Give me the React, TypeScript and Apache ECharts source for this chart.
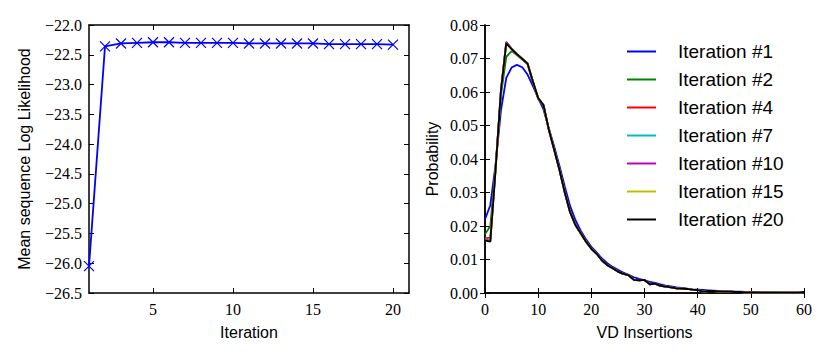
import React, { useEffect, useRef } from "react";
import * as echarts from "echarts";

// ---- Left panel data ----
const iterations = [1, 2, 3, 4, 5, 6, 7, 8, 9, 10, 11, 12, 13, 14, 15, 16, 17, 18, 19, 20];
const meanLogLik = [
  -26.05, -22.36, -22.31, -22.3, -22.29, -22.29, -22.3, -22.3, -22.3, -22.3,
  -22.31, -22.31, -22.31, -22.31, -22.31, -22.32, -22.32, -22.32, -22.32, -22.33,
];
const leftXTicks = [5, 10, 15, 20];

// ---- Right panel data ----
const insertions = Array.from({ length: 61 }, (_, i) => i);
const iter1 = [
  0.022, 0.0262, 0.0385, 0.0545, 0.0642, 0.0673, 0.0681, 0.0674, 0.0652, 0.0618,
  0.0582, 0.0548, 0.0492, 0.0438, 0.038, 0.0318, 0.026, 0.0218, 0.0186, 0.016,
  0.0138, 0.0121, 0.0103, 0.0089, 0.0078, 0.0069, 0.0061, 0.0054, 0.0047, 0.0042,
  0.0038, 0.0033, 0.003, 0.0026, 0.0022, 0.002, 0.0017, 0.0015, 0.0013, 0.0011,
  0.001, 0.0009, 0.0008, 0.0007, 0.0006, 0.0005, 0.0005, 0.0004, 0.0004, 0.0003,
  0.0003, 0.0002, 0.0002, 0.0002, 0.0002, 0.0002, 0.0001, 0.0001, 0.0001, 0.0001, 0.0001,
];
const iter2 = [
  0.0175, 0.02, 0.038, 0.059, 0.0705, 0.0722, 0.071, 0.0697, 0.0683, 0.0628,
  0.058, 0.0557, 0.0489, 0.043, 0.037, 0.0303, 0.0244, 0.0205, 0.018, 0.0155,
  0.0134, 0.0118, 0.0098, 0.0084, 0.0075, 0.0065, 0.0058, 0.0053, 0.004, 0.0039,
  0.0039, 0.0027, 0.0028, 0.0022, 0.0019, 0.0017, 0.0014, 0.0013, 0.0012, 0.001,
  0.0009, 0.0005, 0.0006, 0.0006, 0.0005, 0.0004, 0.0004, 0.0003, 0.0003, 0.0002,
  0.0002, 0.0002, 0.0001, 0.0001, 0.0001, 0.0001, 0.0001, 0.0001, 0.0001, 0.0001, 0.0003,
];
const iter4 = [
  0.0163, 0.0165, 0.0375, 0.0602, 0.0748, 0.073, 0.0714, 0.07, 0.0685, 0.0631,
  0.0581, 0.056, 0.0488, 0.0428, 0.0368, 0.0301, 0.0242, 0.0203, 0.0178, 0.0153,
  0.0132, 0.0117, 0.0097, 0.0083, 0.0074, 0.0064, 0.0057, 0.0053, 0.0039, 0.0038,
  0.0039, 0.0026, 0.0028, 0.0021, 0.0019, 0.0017, 0.0014, 0.0013, 0.0012, 0.001,
  0.0009, 0.0004, 0.0006, 0.0006, 0.0005, 0.0004, 0.0004, 0.0003, 0.0003, 0.0002,
  0.0002, 0.0002, 0.0001, 0.0001, 0.0001, 0.0001, 0.0001, 0.0001, 0.0001, 0.0001, 0.0003,
];
const iter7 = [
  0.016, 0.0157, 0.0372, 0.0604, 0.0749, 0.0729, 0.0713, 0.0699, 0.0685, 0.0632,
  0.0582, 0.0561, 0.0488, 0.0428, 0.0368, 0.03, 0.0241, 0.0203, 0.0178, 0.0153,
  0.0132, 0.0117, 0.0097, 0.0083, 0.0074, 0.0064, 0.0057, 0.0053, 0.0039, 0.0038,
  0.0039, 0.0026, 0.0028, 0.0021, 0.0019, 0.0017, 0.0014, 0.0013, 0.0012, 0.001,
  0.0009, 0.0004, 0.0006, 0.0006, 0.0005, 0.0004, 0.0004, 0.0003, 0.0003, 0.0002,
  0.0002, 0.0002, 0.0001, 0.0001, 0.0001, 0.0001, 0.0001, 0.0001, 0.0001, 0.0001, 0.0003,
];
const iter10 = [
  0.0158, 0.0155, 0.0371, 0.0605, 0.075, 0.0729, 0.0713, 0.0699, 0.0685, 0.0632,
  0.0582, 0.0561, 0.0488, 0.0428, 0.0368, 0.03, 0.0241, 0.0203, 0.0178, 0.0153,
  0.0132, 0.0117, 0.0097, 0.0083, 0.0074, 0.0064, 0.0057, 0.0053, 0.0039, 0.0038,
  0.0039, 0.0026, 0.0028, 0.0021, 0.0019, 0.0017, 0.0014, 0.0013, 0.0012, 0.001,
  0.0009, 0.0004, 0.0006, 0.0006, 0.0005, 0.0004, 0.0004, 0.0003, 0.0003, 0.0002,
  0.0002, 0.0002, 0.0001, 0.0001, 0.0001, 0.0001, 0.0001, 0.0001, 0.0001, 0.0001, 0.0003,
];
const iter15 = [
  0.0157, 0.0154, 0.037, 0.0605, 0.0746, 0.0728, 0.0713, 0.0699, 0.0685, 0.0632,
  0.0582, 0.0561, 0.0488, 0.0428, 0.0368, 0.03, 0.0241, 0.0203, 0.0178, 0.0153,
  0.0132, 0.0117, 0.0097, 0.0083, 0.0074, 0.0064, 0.0057, 0.0053, 0.0039, 0.0038,
  0.0039, 0.0026, 0.0028, 0.0021, 0.0019, 0.0017, 0.0014, 0.0013, 0.0012, 0.001,
  0.0009, 0.0004, 0.0006, 0.0006, 0.0005, 0.0004, 0.0004, 0.0003, 0.0003, 0.0002,
  0.0002, 0.0002, 0.0001, 0.0001, 0.0001, 0.0001, 0.0001, 0.0001, 0.0001, 0.0001, 0.0003,
];
const iter20 = [
  0.0157, 0.0153, 0.037, 0.0605, 0.0745, 0.0728, 0.0713, 0.0699, 0.0685, 0.0632,
  0.0582, 0.0561, 0.0488, 0.0428, 0.0368, 0.03, 0.0241, 0.0203, 0.0178, 0.0153,
  0.0132, 0.0117, 0.0097, 0.0083, 0.0074, 0.0064, 0.0057, 0.0053, 0.0039, 0.0038,
  0.0039, 0.0026, 0.0028, 0.0021, 0.0019, 0.0017, 0.0014, 0.0013, 0.0012, 0.001,
  0.0009, 0.0004, 0.0006, 0.0006, 0.0005, 0.0004, 0.0004, 0.0003, 0.0003, 0.0002,
  0.0002, 0.0002, 0.0001, 0.0001, 0.0001, 0.0001, 0.0001, 0.0001, 0.0001, 0.0001, 0.0003,
];
const seriesNames = [
  "Iteration #1", "Iteration #2", "Iteration #4", "Iteration #7",
  "Iteration #10", "Iteration #15", "Iteration #20",
];
const seriesValues = [iter1, iter2, iter4, iter7, iter10, iter15, iter20];
const seriesColors = ["#0000ff", "#008000", "#ff0000", "#00bfbf", "#bf00bf", "#bfbf00", "#000000"];

const SERIF = "Liberation Serif";
const SANS = "Liberation Sans";

function axisPair(
  gridIndex: number,
  dim: "x" | "y",
  min: number,
  max: number,
  opts: any
) {
  const tick = {
    show: true,
    inside: true,
    length: 5,
    lineStyle: { color: "#000", width: 1 },
    ...(opts.customValues ? { customValues: opts.customValues } : {}),
  };
  const line = { show: true, lineStyle: { color: "#000", width: 1.5 } };
  const base: any = {
    type: "value",
    gridIndex,
    min,
    max,
    splitLine: { show: false },
    axisLine: line,
    axisTick: tick,
  };
  if (opts.interval !== undefined) base.interval = opts.interval;
  const main: any = {
    ...base,
    position: dim === "x" ? "bottom" : "left",
    axisLabel: {
      show: true,
      margin: dim === "x" ? 8 : 7,
      fontFamily: SERIF,
      fontSize: 16,
      color: "#000",
      formatter: opts.formatter,
      ...(opts.customValues ? { customValues: opts.customValues } : {}),
    },
    name: opts.name,
    nameLocation: "middle",
    nameGap: opts.nameGap,
    nameRotate: dim === "y" ? 90 : 0,
    nameTextStyle: { fontFamily: SANS, fontSize: 16, color: "#000" },
  };
  const mirror: any = {
    ...base,
    position: dim === "x" ? "top" : "right",
    axisLabel: { show: false },
  };
  return [main, mirror];
}

const fmtNeg = (v: number) => (v < 0 ? "\u2212" : "") + Math.abs(v).toFixed(1);

export default function App() {
  const ref = useRef<HTMLDivElement>(null);
  useEffect(() => {
    if (!ref.current) return;
    const chart = echarts.init(ref.current, undefined, { renderer: "svg" });
    const [lx, lx2] = axisPair(0, "x", 1, 21, {
      customValues: leftXTicks,
      formatter: (v: number) => String(v),
      name: "Iteration",
      nameGap: 31,
    });
    const [ly, ly2] = axisPair(0, "y", -26.5, -22, {
      interval: 0.5,
      formatter: fmtNeg,
      name: "Mean sequence Log Likelihood",
      nameGap: 57,
    });
    const [rx, rx2] = axisPair(1, "x", 0, 60, {
      interval: 10,
      formatter: (v: number) => String(v),
      name: "VD Insertions",
      nameGap: 31,
    });
    const [ry, ry2] = axisPair(1, "y", 0, 0.08, {
      interval: 0.01,
      formatter: (v: number) => v.toFixed(2),
      name: "Probability",
      nameGap: 45,
    });

    const option: any = {
      animation: false,
      backgroundColor: "#fff",
      grid: [
        { left: 89, top: 25, width: 320, height: 268 },
        { left: 485, top: 25, width: 319, height: 268 },
      ],
      xAxis: [lx, lx2, rx, rx2],
      yAxis: [ly, ly2, ry, ry2],
      legend: {
        show: true,
        orient: "vertical",
        left: 627,
        top: 42,
        padding: 0,
        itemWidth: 29,
        itemHeight: 2,
        itemGap: 9,
        icon: "rect",
        data: seriesNames,
        textStyle: {
          fontFamily: SANS,
          fontSize: 19,
          lineHeight: 19,
          color: "#000",
          padding: [0, 0, 0, 17],
        },
      },
      series: [
        {
          type: "line",
          name: "meanLL",
          xAxisIndex: 0,
          yAxisIndex: 0,
          data: iterations.map((x, i) => [x, meanLogLik[i]]),
          symbol: "path://M0,0L10,10M10,0L0,10",
          symbolSize: 10,
          showSymbol: true,
          itemStyle: { color: "none", borderColor: "#0000ff", borderWidth: 1.2 },
          lineStyle: { color: "#0000ff", width: 1.8 },
          emphasis: { disabled: true },
        },
        ...seriesNames.map((name, k) => ({
          type: "line",
          name,
          xAxisIndex: 2,
          yAxisIndex: 2,
          data: insertions.map((x, i) => [x, seriesValues[k][i]]),
          showSymbol: false,
          symbol: "none",
          itemStyle: { color: seriesColors[k] },
          lineStyle: { color: seriesColors[k], width: 1.8 },
          emphasis: { disabled: true },
        })),
      ],
    };
    chart.setOption(option);
    return () => chart.dispose();
  }, []);
  return (
    <div
      ref={ref}
      style={{ position: "fixed", left: 0, top: 0, width: 830, height: 356, background: "#fff" }}
    />
  );
}
